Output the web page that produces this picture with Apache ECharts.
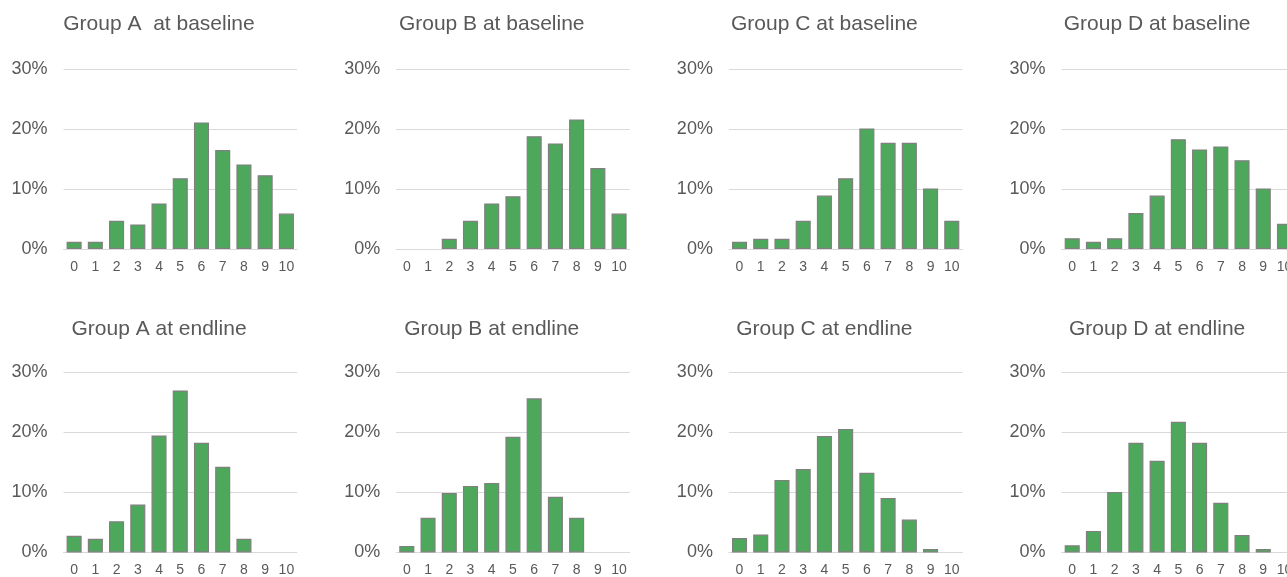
<!DOCTYPE html>
<html>
<head>
<meta charset="utf-8">
<script src="https://cdn.jsdelivr.net/npm/echarts@6/dist/echarts.min.js"></script>
<style>
  html, body { margin: 0; padding: 0; background: #ffffff; }
  #chart { width: 1287px; height: 577px; }
</style>
</head>
<body>
<div id="chart"></div>
<script>
// ---- data (percent of respondents per score) ----
var categories = ['0', '1', '2', '3', '4', '5', '6', '7', '8', '9', '10'];
var yTicks = [0, 10, 20, 30];

var groupABaseline = [1.2, 1.2, 4.7, 4.1, 7.6, 11.8, 21.1, 16.5, 14.1, 12.3, 5.9];
var groupBBaseline = [0, 0, 1.7, 4.7, 7.6, 8.8, 18.8, 17.6, 21.6, 13.5, 5.9];
var groupCBaseline = [1.2, 1.7, 1.7, 4.7, 8.9, 11.8, 20.1, 17.7, 17.7, 10.1, 4.7];
var groupDBaseline = [1.8, 1.2, 1.8, 6.0, 8.9, 18.3, 16.6, 17.1, 14.8, 10.1, 4.2];

var groupAEndline = [2.8, 2.3, 5.2, 8.0, 19.5, 27.0, 18.3, 14.3, 2.3, 0, 0];
var groupBEndline = [1.1, 5.8, 9.9, 11.1, 11.6, 19.3, 25.7, 9.3, 5.8, 0, 0];
var groupCEndline = [2.4, 3.0, 12.1, 13.9, 19.4, 20.6, 13.3, 9.1, 5.5, 0.6, 0];
var groupDEndline = [1.2, 3.6, 10.1, 18.3, 15.3, 21.8, 18.3, 8.3, 2.9, 0.6, 0];

var panelTitles = [
  'Group A  at baseline', 'Group B at baseline', 'Group C at baseline', 'Group D at baseline',
  'Group A at endline', 'Group B at endline', 'Group C at endline', 'Group D at endline'
];
var panelData = [
  groupABaseline, groupBBaseline, groupCBaseline, groupDBaseline,
  groupAEndline, groupBEndline, groupCEndline, groupDEndline
];

// ---- layout ----
var FONT = '"Liberation Sans", Arial, sans-serif';
var TEXT = '#595959';
var colStep = 332.7;
var gridLeft0 = 63.5;
var gridW = 233.5;
var gridH = 180;
var rowTops = [69, 372.5];
var titleY = [24, 329];
var titleCx0 = 159;

var grids = [], xAxes = [], yAxes = [], series = [], graphics = [];
for (var i = 0; i < 8; i++) {
  var col = i % 4, row = Math.floor(i / 4);
  grids.push({
    left: gridLeft0 + col * colStep,
    top: rowTops[row],
    width: gridW,
    height: gridH,
    containLabel: false,
    outerBoundsMode: 'none'
  });
  xAxes.push({
    type: 'category',
    gridIndex: i,
    data: categories,
    axisLine: { show: true, lineStyle: { color: '#d9d9d9', width: 1 } },
    axisTick: { show: false },
    axisLabel: { color: TEXT, fontSize: 14, fontFamily: FONT, margin: 11, interval: 0, hideOverlap: false }
  });
  yAxes.push({
    type: 'value',
    gridIndex: i,
    min: yTicks[0],
    max: yTicks[yTicks.length - 1],
    interval: 10,
    axisLine: { show: false },
    axisTick: { show: false },
    splitLine: { lineStyle: { color: '#d9d9d9', width: 1 } },
    axisLabel: { color: TEXT, fontSize: 18, fontFamily: FONT, margin: 16, formatter: '{value}%' }
  });
  series.push({
    type: 'bar',
    xAxisIndex: i,
    yAxisIndex: i,
    // zero-height bars are not drawn in the reference
    data: panelData[i].map(function (v) { return v === 0 ? null : v; }),
    barCategoryGap: '29%',
    itemStyle: { color: '#4EA85C', borderColor: '#7f7f7f', borderWidth: 1.2 },
    emphasis: { disabled: true },
    animation: false
  });
  graphics.push({
    type: 'text',
    x: titleCx0 + col * colStep,
    y: titleY[row],
    style: {
      text: panelTitles[i],
      fill: TEXT,
      font: '21px ' + FONT,
      textAlign: 'center',
      textVerticalAlign: 'middle'
    }
  });
}

var chart = echarts.init(document.getElementById('chart'), null, { renderer: 'canvas' });
chart.setOption({
  backgroundColor: '#ffffff',
  animation: false,
  grid: grids,
  xAxis: xAxes,
  yAxis: yAxes,
  series: series,
  graphic: graphics
});
</script>
</body>
</html>
